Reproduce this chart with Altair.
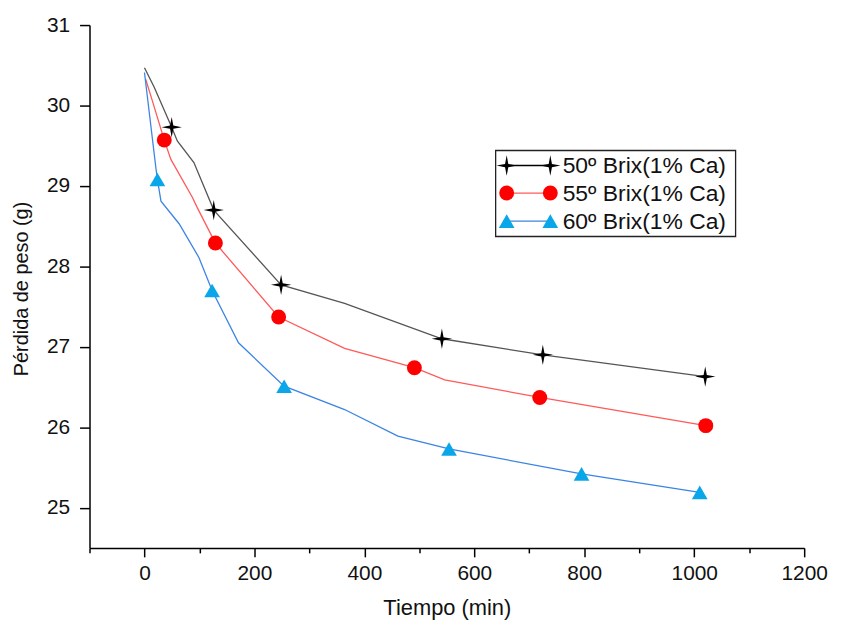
import altair as alt
import pandas as pd

series = ["50º Brix(1% Ca)", "55º Brix(1% Ca)", "60º Brix(1% Ca)"]

# line vertices (time in min, weight loss in g)
t50_line = [0, 17.5, 49.5, 59.7, 89.9, 126, 248.5, 364, 541, 724.6, 1020]
w50_line = [30.47, 30.23, 29.73, 29.56, 29.29, 28.70, 27.77, 27.54, 27.10, 26.90, 26.63]
t55_line = [2, 12, 36, 48, 87, 96, 129, 244, 364, 491, 546, 719, 1021]
w55_line = [30.33, 30.11, 29.57, 29.33, 28.86, 28.73, 28.29, 27.37, 26.98, 26.74, 26.59, 26.37, 26.02]
t60_line = [0, 21, 23.5, 30, 63, 99, 123, 171, 254, 364, 461, 554, 795, 1010]
w60_line = [30.41, 29.21, 29.08, 28.81, 28.53, 28.11, 27.70, 27.05, 26.51, 26.22, 25.89, 25.73, 25.42, 25.19]

# marked points
t50_mark = [49.5, 126, 248.5, 541, 724.6, 1020]
w50_mark = [29.73, 28.70, 27.77, 27.10, 26.90, 26.63]
t55_mark = [36, 129, 244, 491, 719, 1021]
w55_mark = [29.57, 28.29, 27.37, 26.74, 26.37, 26.02]
t60_mark = [23.5, 123, 254, 554, 795, 1010]
w60_mark = [29.08, 27.70, 26.51, 25.73, 25.42, 25.19]

x_ticks = [-100, 0, 100, 200, 300, 400, 500, 600, 700, 800, 900, 1000, 1100, 1200]
y_ticks = [25, 25.5, 26, 26.5, 27, 27.5, 28, 28.5, 29, 29.5, 30, 30.5, 31]

line_colors = ["#555555", "#ff5a5a", "#3b84e4"]
mark_colors = ["#000000", "#ff0000", "#0aa6ea"]
star = "M0,-1 L0.16,-0.16 L1,0 L0.16,0.16 L0,1 L-0.16,0.16 L-1,0 L-0.16,-0.16 Z"
shapes = [star, "circle", "triangle-up"]
sizes = [420, 225, 250]

FONT = "Liberation Sans"
NARROW = "Liberation Sans Narrow, Arial Narrow, Liberation Sans"

lines_df = pd.concat([
    pd.DataFrame({"t": t50_line, "w": w50_line, "series": series[0]}),
    pd.DataFrame({"t": t55_line, "w": w55_line, "series": series[1]}),
    pd.DataFrame({"t": t60_line, "w": w60_line, "series": series[2]}),
])
marks = [
    pd.DataFrame({"t": t50_mark, "w": w50_mark}),
    pd.DataFrame({"t": t55_mark, "w": w55_mark}),
    pd.DataFrame({"t": t60_mark, "w": w60_mark}),
]

x_enc = alt.X("t:Q", scale=alt.Scale(domain=[-100, 1200], nice=False, zero=False),
              axis=alt.Axis(values=x_ticks, title="Tiempo (min)",
                            tickSize={"condition": {"test": "datum.value % 200 === 0", "value": 9}, "value": 5},
                            labelExpr="datum.value % 200 === 0 ? datum.label : ''",
                            labelOverlap=False, labelFlush=False, format="d",
                            labelFont=NARROW, labelFontSize=21, labelPadding=6,
                            titleFont=FONT, titleFontSize=22, titleFontWeight="normal",
                            titleY=60, titleBaseline="middle"))
y_enc = alt.Y("w:Q", scale=alt.Scale(domain=[24.5, 31], nice=False, zero=False),
              axis=alt.Axis(values=y_ticks, title="Pérdida de peso (g)",
                            tickSize={"condition": {"test": "datum.value % 1 === 0", "value": 10}, "value": 5},
                            labelExpr="datum.value % 1 === 0 ? datum.label : ''",
                            labelOverlap=False, labelFlush=False, format="d",
                            labelFont=FONT, labelFontSize=21, labelPadding=10,
                            titleFont=FONT, titleFontSize=20, titleFontWeight="normal",
                            titleX=-68, titleY=265, titleBaseline="middle", titleAngle=-90))

lines = alt.Chart(lines_df).mark_line(strokeWidth=1.3).encode(
    x=x_enc, y=y_enc,
    stroke=alt.Stroke("series:N", scale=alt.Scale(domain=series, range=line_colors), legend=None),
)

layers = [lines]
for i in range(3):
    layers.append(
        alt.Chart(marks[i]).mark_point(shape=shapes[i], size=sizes[i], filled=True,
                                       fill=mark_colors[i], strokeWidth=0, opacity=1)
        .encode(x=x_enc, y=y_enc)
    )

# legend (drawn as annotation)
box = alt.Chart(pd.DataFrame({"a": [0]})).mark_rect(fill="white", stroke="#222222", strokeWidth=1.3).encode(
    x=alt.value(408.6), x2=alt.value(650), y=alt.value(126.2), y2=alt.value(212.7))
layers.append(box)
row_y = [141.3, 169.0, 197.2]
for i in range(3):
    one = pd.DataFrame({"label": [series[i]]})
    layers.append(alt.Chart(one).mark_rule(color=line_colors[i] if i else "#000000", strokeWidth=1.3).encode(
        x=alt.value(419.7), x2=alt.value(463.6), y=alt.value(row_y[i])))
    for xx in (419.7, 463.6):
        layers.append(alt.Chart(one).mark_point(shape=shapes[i], size=sizes[i], filled=True,
                                                fill=mark_colors[i], strokeWidth=0, opacity=1)
                      .encode(x=alt.value(xx), y=alt.value(row_y[i])))
    layers.append(alt.Chart(one).mark_text(align="left", baseline="middle", font=FONT, fontSize=23,
                                           color="#111111")
                  .encode(x=alt.value(476), y=alt.value(row_y[i] + 1), text="label:N"))

chart = alt.layer(*layers).properties(
    width=719, height=526,
    autosize=alt.AutoSizeParams(type="none"),
    padding={"left": 82, "top": 15.3, "right": 30, "bottom": 75},
).configure_view(stroke=None).configure_axis(
    grid=False, domainColor="#000000", domainWidth=1.5, tickColor="#000000", tickWidth=1.5,
    labelColor="#111111", titleColor="#111111",
)

chart.save("out.html", embed_options={"renderer": "svg", "actions": False})
